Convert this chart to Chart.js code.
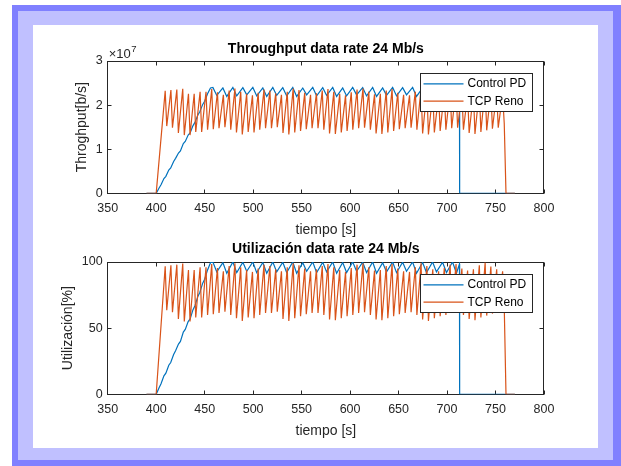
<!DOCTYPE html>
<html lang="es">
<head>
<meta charset="UTF-8">
<title>Throughput y utilización - 24 Mb/s</title>
<script src="https://cdn.jsdelivr.net/npm/chart.js@4.4.0/dist/chart.umd.min.js"></script>
<style>
  html, body { margin: 0; padding: 0; background: #fff; }
  body { width: 621px; height: 466px; position: relative; overflow: hidden; }
  .outer { position: absolute; left: 12px; top: 5px; right: 0; bottom: 0; background: #8080ff; }
  .inner { position: absolute; left: 18px; top: 11px; width: 595px; height: 449px; background: #c0c0ff; }
  .panel { position: absolute; left: 33px; top: 25px; width: 565px; height: 423px; background: #fff; }
  canvas { position: absolute; left: 33px; }
  #thrChart { top: 30px; }
  #utilChart { top: 231px; }
</style>
</head>
<body>
<div class="outer"></div>
<div class="inner"></div>
<div class="panel"></div>
<canvas id="thrChart" width="565" height="209"></canvas>
<canvas id="utilChart" width="565" height="209"></canvas>

<script>
const LINK_RATE = 24e6; // b/s

// tiempo [s] / utilización [%] - Control PD
const pdRampT = [390, 400, 403, 405, 408, 410, 413, 415, 418, 420, 423, 425, 428, 430, 433, 435, 438, 440, 443, 445, 448, 450, 453, 456];
const pdRampU = [0, 0, 5, 8, 14, 16, 22, 24, 30, 33, 38, 40, 47, 49, 55, 57, 64, 67, 74, 77, 84, 87, 94, 99.5];
const pdPeakT = [458.5, 468.8, 479.1, 489.4, 499.7, 510.0, 520.3, 530.6, 540.9, 551.2, 561.5, 571.8, 582.1, 592.4, 602.7, 613.0, 623.3, 633.6, 643.9, 654.2, 664.5, 674.8, 685.1, 695.4, 705.7];
const pdPeakU = [100, 99.5, 100, 99.8, 100, 99.6, 100, 99.8, 100, 99.5, 100, 99.8, 100, 99.6, 100, 99.8, 100, 99.5, 100, 99.8, 100, 99.6, 100, 99.8, 100];
const pdDipT = [462.5, 472.8, 483.1, 493.4, 503.7, 514.0, 524.3, 534.6, 544.9, 555.2, 565.5, 575.8, 586.1, 596.4, 606.7, 617.0, 627.3, 637.6, 647.9, 658.2, 668.5, 678.8, 689.1, 699.4, 709.7];
const pdDipU = [92.5, 91.5, 92, 93, 92, 91.5, 92.5, 92, 91.5, 93, 92, 92.5, 91.5, 92, 93, 92, 91.5, 92.5, 92, 93, 91.5, 92, 92.5, 92, 91.5];
const pdEndT = [712.8, 713.0, 770];
const pdEndU = [98.5, 0, 0];

// tiempo [s] / utilización [%] - TCP Reno
const renoStartT = [390, 400];
const renoStartU = [0, 0];
const renoPeakT = [409.3, 415.2, 421.3, 427.4, 433.3, 439.2, 445.3, 451.4, 457.3, 463.2,
  469.3, 475.3, 481.2, 487.2, 493.3, 499.3, 505.2, 511.2, 517.3, 523.3,
  529.2, 535.2, 541.3, 547.3, 553.2, 559.2, 565.3, 571.3, 577.2, 583.2,
  589.3, 595.3, 601.2, 607.2, 613.3, 619.3, 625.2, 631.2, 637.3, 643.3,
  649.2, 655.2, 661.3, 667.3, 673.2, 679.2, 685.3, 691.3, 697.2, 703.2,
  709.3, 715.3, 721.2, 727.2, 733.3, 739.3, 745.2, 751.2, 757.3];
const renoPeakU = [96.8, 97.5, 98.0, 98.8, 94.0, 94.0, 96.0, 96.0, 98.5, 95.5,
  93.0, 97.0, 99.0, 96.0, 94.0, 92.5, 95.0, 98.0, 97.0, 94.5,
  93.0, 96.0, 99.0, 97.5, 95.0, 93.0, 94.5, 97.0, 98.5, 96.0,
  94.0, 92.5, 95.5, 98.0, 99.0, 96.0, 93.5, 94.0, 97.0, 98.5,
  95.0, 93.0, 92.5, 96.0, 99.0, 97.0, 94.5, 93.0, 95.5, 98.0,
  98.5, 95.0, 93.5, 94.5, 97.5, 99.5, 96.5, 94.5, 93.0];
const renoTroughT = [410.9, 416.8, 422.9, 429.0, 434.9, 440.8, 446.9, 453.0, 458.9, 464.8,
  470.9, 476.9, 482.8, 488.8, 494.9, 500.9, 506.8, 512.8, 518.9, 524.9,
  530.8, 536.8, 542.9, 548.9, 554.8, 560.8, 566.9, 572.9, 578.8, 584.8,
  590.9, 596.9, 602.8, 608.8, 614.9, 620.9, 626.8, 632.8, 638.9, 644.9,
  650.8, 656.8, 662.9, 668.9, 674.8, 680.8, 686.9, 692.9, 698.8, 704.8,
  710.9, 716.9, 722.8, 728.8, 734.9, 740.9, 746.8, 752.8, 759.0];
const renoTroughU = [63.5, 62.0, 57.0, 55.0, 55.0, 58.0, 58.0, 60.0, 60.5, 61.5,
  62.5, 60.0, 57.5, 55.5, 58.0, 57.5, 60.0, 61.5, 61.5, 62.5,
  57.0, 55.5, 57.5, 59.0, 60.5, 61.5, 61.5, 60.0, 56.5, 56.0,
  57.5, 59.0, 60.0, 61.5, 62.0, 60.0, 56.5, 56.0, 57.5, 59.0,
  60.5, 61.5, 62.0, 60.0, 56.5, 55.5, 57.5, 59.0, 60.0, 61.5,
  62.0, 60.0, 57.0, 56.0, 58.0, 59.5, 61.0, 62.0, 66.0];
const renoEndT = [760.8, 770];
const renoEndU = [0, 0];

const timeTicks = [350, 400, 450, 500, 550, 600, 650, 700, 750, 800];
const thrTicks = [0, 1e7, 2e7, 3e7];
const utilTicks = [0, 50, 100];

const FONT = "'Liberation Sans', Arial, Helvetica, sans-serif";
const AXIS = '#262626';

// alterna dos listas (picos / valles) en una sola serie
function interleave(aT, aU, bT, bU) {
  const t = [], u = [];
  aT.forEach((v, i) => { t.push(v, bT[i]); u.push(aU[i], bU[i]); });
  return [t, u];
}

function series(parts, k) {
  const pts = [];
  parts.forEach(([ts, us]) => ts.forEach((t, i) => pts.push({ x: t, y: us[i] * k })));
  return pts;
}

const pdParts = [[pdRampT, pdRampU], interleave(pdPeakT, pdPeakU, pdDipT, pdDipU), [pdEndT, pdEndU]];
const renoParts = [[renoStartT, renoStartU], interleave(renoPeakT, renoPeakU, renoTroughT, renoTroughU), [renoEndT, renoEndU]];

// caja estilo MATLAB con marcas hacia dentro, leyenda y exponente
const matlabAxes = {
  id: 'matlabAxes',
  beforeDatasetsDraw(chart) {
    const { ctx, chartArea: a, scales: { x, y } } = chart;
    const L = Math.floor(a.left) + 0.5, R = Math.floor(a.right) - 0.5;
    const T = Math.floor(a.top) + 0.5, B = Math.floor(a.bottom) + 0.5;
    ctx.save();
    ctx.strokeStyle = AXIS;
    ctx.lineWidth = 1;
    ctx.strokeRect(L, T, R - L, B - T);
    ctx.beginPath();
    x.ticks.forEach(t => {
      const px = Math.floor(x.getPixelForValue(t.value)) + 0.5;
      ctx.moveTo(px, B); ctx.lineTo(px, B - 4);
      ctx.moveTo(px, T); ctx.lineTo(px, T + 4);
    });
    y.ticks.forEach(t => {
      const py = Math.floor(y.getPixelForValue(t.value)) + 0.5;
      ctx.moveTo(L, py); ctx.lineTo(L + 4, py);
      ctx.moveTo(R, py); ctx.lineTo(R - 4, py);
    });
    ctx.stroke();
    ctx.restore();
  },
  afterDraw(chart, args, opts) {
    const { ctx, chartArea: a } = chart;
    ctx.save();
    const w = 112, h = 38;
    const bx = Math.floor(a.right) - 12 - w + 0.5;
    const by = Math.floor(a.top) + 12 + 0.5;
    ctx.fillStyle = '#fff';
    ctx.fillRect(bx, by, w, h);
    ctx.strokeStyle = AXIS;
    ctx.lineWidth = 1;
    ctx.strokeRect(bx, by, w, h);
    ctx.font = '12px ' + FONT;
    ctx.textBaseline = 'middle';
    ctx.textAlign = 'left';
    chart.data.datasets.forEach((ds, i) => {
      const ry = by + 10.3 + i * 17.4;
      ctx.strokeStyle = ds.borderColor;
      ctx.lineWidth = 1.2;
      ctx.beginPath();
      ctx.moveTo(bx + 3, ry); ctx.lineTo(bx + 43, ry);
      ctx.stroke();
      ctx.fillStyle = '#000';
      ctx.fillText(ds.label, bx + 47, ry);
    });
    if (opts.exponent) {
      ctx.fillStyle = AXIS;
      ctx.textBaseline = 'alphabetic';
      ctx.font = '13px ' + FONT;
      ctx.fillText('×10', a.left + 1, a.top - 3);
      const wx = ctx.measureText('×10').width;
      ctx.font = '9.5px ' + FONT;
      ctx.fillText(opts.exponent, a.left + 1.5 + wx, a.top - 9);
    }
    ctx.restore();
  }
};

function makeChart(id, cfg) {
  return new Chart(document.getElementById(id), {
    type: 'line',
    data: {
      datasets: [
        { label: 'Control PD', data: series(pdParts, cfg.k), borderColor: '#0072BD', borderWidth: 1.2, order: 1 },
        { label: 'TCP Reno', data: series(renoParts, cfg.k), borderColor: '#D95319', borderWidth: 1.2, order: 0 }
      ]
    },
    options: {
      responsive: false,
      animation: false,
      events: [],
      layout: { padding: { left: 0, right: 54, top: 0, bottom: 0 } },
      elements: { point: { radius: 0 }, line: { tension: 0, fill: false } },
      plugins: {
        legend: { display: false },
        tooltip: { enabled: false },
        title: {
          display: true,
          text: cfg.title,
          fullSize: false,
          color: '#000',
          font: { family: FONT, size: 14, weight: 'bold' },
          padding: { top: cfg.titlePad[0], bottom: cfg.titlePad[1] }
        },
        matlabAxes: { exponent: cfg.exponent }
      },
      scales: {
        x: {
          type: 'linear',
          min: 350,
          max: 800,
          afterBuildTicks: s => { s.ticks = timeTicks.map(v => ({ value: v })); },
          afterFit: s => { s.height = 45.7; },
          grid: { display: false, drawTicks: false },
          border: { display: false },
          ticks: { color: AXIS, font: { family: FONT, size: 12.5 }, padding: 8, maxRotation: 0 },
          title: {
            display: true,
            text: 'tiempo [s]',
            color: AXIS,
            font: { family: FONT, size: 14 },
            padding: { top: 0, bottom: cfg.xTitlePad }
          }
        },
        y: {
          type: 'linear',
          min: 0,
          max: cfg.yMax,
          afterBuildTicks: s => { s.ticks = cfg.yTicks.map(v => ({ value: v })); },
          afterFit: s => { s.width = 74.7; },
          grid: { display: false, drawTicks: false },
          border: { display: false },
          ticks: { color: AXIS, font: { family: FONT, size: 12.5 }, padding: 5, callback: cfg.fmt },
          title: {
            display: true,
            text: cfg.yTitle,
            color: AXIS,
            font: { family: FONT, size: 14 },
            padding: { top: cfg.yTitlePad, bottom: 0 }
          }
        }
      }
    },
    plugins: [matlabAxes]
  });
}

makeChart('thrChart', {
  title: 'Throughput data rate 24 Mb/s',
  titlePad: [10.6, 3.6],
  k: LINK_RATE / 100,
  yMax: 3e7,
  yTicks: thrTicks,
  fmt: v => String(v / 1e7),
  yTitle: 'Throghput[b/s]',
  yTitlePad: 40.3,
  xTitlePad: 0.6,
  exponent: '7'
});

makeChart('utilChart', {
  title: 'Utilización data rate 24 Mb/s',
  titlePad: [9.6, 4.6],
  k: 1,
  yMax: 100,
  yTicks: utilTicks,
  fmt: v => String(v),
  yTitle: 'Utilización[%]',
  yTitlePad: 26.9,
  xTitlePad: 0,
  exponent: null
});
</script>
</body>
</html>
